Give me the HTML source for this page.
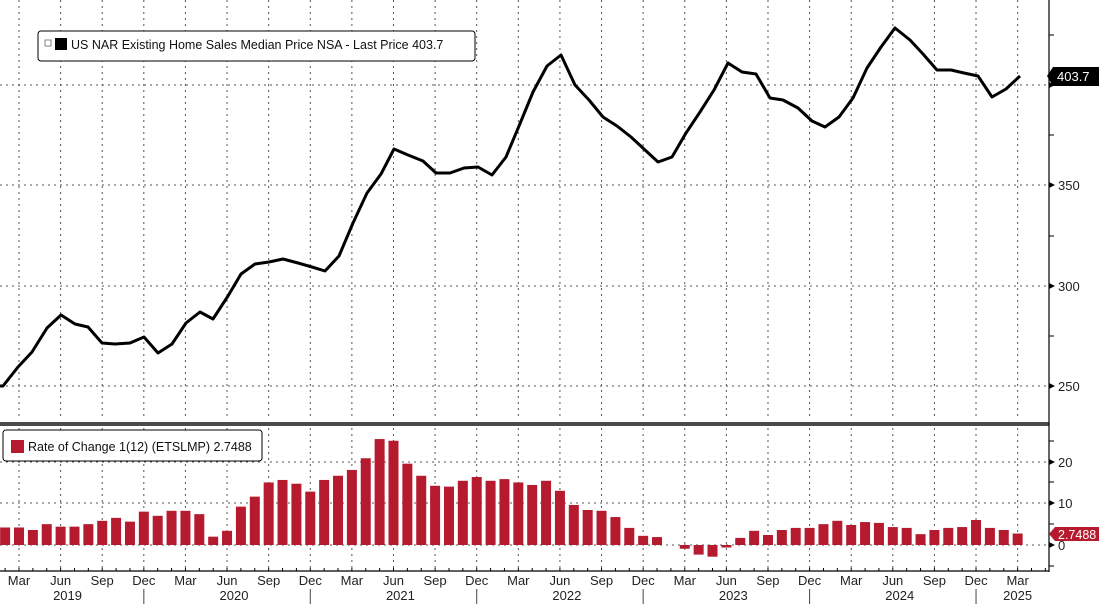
<!DOCTYPE html>
<html><head><meta charset="utf-8"><style>
html,body{margin:0;padding:0;background:#fff;}
svg{display:block;font-family:"Liberation Sans",sans-serif;}
</style></head><body>
<svg id="c" width="1099" height="604" viewBox="0 0 1099 604" xmlns="http://www.w3.org/2000/svg">
<rect width="1099" height="604" fill="#fff"/>
<g id="grid"></g>
<g id="bars"></g>
<polyline id="line" fill="none" stroke="#000" stroke-width="3" stroke-linejoin="round" points="0,386 3,386 18,367 32,352 47,328 61,315 75,324 88,327 102,343 115,344 130,343 144,337 158,353 172,344 186,323 200,312 213,319 228,296 241,274 255,264 269,262 283,259 298,263 312,267 325,271 339,256 353,223 367,193 381,174 394,149 408,155 423,161 436,173 450,173 464,168 478,167 492,175 506,157 519,126 533,92 547,66 561,55 575,85 589,100 603,117 617,126 631,137 644,149 658,162 672,157 686,133 700,112 714,90 728,63 742,72 756,74 770,98 783,100 798,108 812,121 825,127 839,117 853,98 867,68 881,47 895,28 910,40 923,54 937,70 951,70 964,73 978,76 992,97 1006,89 1020,76"/>
<rect x="0" y="422" width="1049" height="4" fill="#4a4a4a"/>
<line x1="1049" y1="0" x2="1049" y2="572" stroke="#000" stroke-width="1.2"/>
<line x1="0" y1="571" x2="1049" y2="571" stroke="#000" stroke-width="1.2"/>
<g id="axis" font-size="13" fill="#222"></g>
<rect x="38" y="31" width="437" height="30" rx="3" fill="#fff" stroke="#000" stroke-width="1"/>
<rect x="45" y="40" width="6" height="6" fill="#fff" stroke="#666" stroke-width="0.8"/>
<rect x="55" y="38" width="12" height="12" fill="#000"/>
<text x="71" y="49" font-size="12.5" fill="#111">US NAR Existing Home Sales Median Price NSA - Last Price 403.7</text>
<rect x="3" y="430" width="259" height="31" rx="3" fill="#fff" stroke="#000" stroke-width="1"/>
<rect x="11" y="440" width="13" height="13" fill="#b51a2e"/>
<text x="28" y="451" font-size="12.5" fill="#111">Rate of Change 1(12) (ETSLMP) 2.7488</text>
<polygon points="1047,76 1053,67 1099,67 1099,86 1053,86" fill="#000"/>
<text x="1057" y="81" font-size="13" fill="#fff">403.7</text>
<polygon points="1049,534 1055,527 1099,527 1099,541 1055,541" fill="#b51a2e"/>
<text x="1058" y="539" font-size="12.5" fill="#fff">2.7488</text>
</svg>
<script>
const NS="http://www.w3.org/2000/svg";
function el(p,t,a,txt){const e=document.createElementNS(NS,t);for(const k in a)e.setAttribute(k,a[k]);if(txt!=null)e.textContent=txt;document.getElementById(p).appendChild(e);return e;}
const X=i=>19+(i-2)*13.87;
for(let i=2;i<=74;i+=3){const x=X(i);
 el("grid","line",{x1:x,y1:0,x2:x,y2:420,stroke:"#555","stroke-width":1,"stroke-dasharray":"2,4"});
 el("grid","line",{x1:x,y1:428,x2:x,y2:571,stroke:"#555","stroke-width":1,"stroke-dasharray":"2,4"});}
[[386,"250"],[286,"300"],[185,"350"],[85,"400"]].forEach(([y,l])=>{
 el("grid","line",{x1:0,y1:y,x2:1049,y2:y,stroke:"#555","stroke-width":1,"stroke-dasharray":"2,4"});
 el("axis","polygon",{points:`1049,${y-3} 1055,${y} 1049,${y+3}`,fill:"#000"});
 if(l!=="400")el("axis","text",{x:1058,y:y+5},l);});
[336,236,135,35].forEach(y=>el("axis","line",{x1:1049,y1:y,x2:1054,y2:y,stroke:"#000"}));
[[545,"0"],[503,"10"],[462,"20"]].forEach(([y,l])=>{
 el("grid","line",{x1:0,y1:y,x2:1049,y2:y,stroke:"#555","stroke-width":1,"stroke-dasharray":"2,4"});
 el("axis","polygon",{points:`1049,${y-3} 1055,${y} 1049,${y+3}`,fill:"#000"});
 el("axis","text",{x:1058,y:y+5},l);});
[566,524,482,441].forEach(y=>el("axis","line",{x1:1049,y1:y,x2:1054,y2:y,stroke:"#000"}));
const v=[4.2,4.2,3.6,5.0,4.4,4.4,5.0,5.8,6.5,5.6,8.0,7.0,8.2,8.2,7.4,2.0,3.4,9.2,11.6,15.0,15.6,14.7,12.8,15.6,16.6,18.0,20.8,25.4,25.0,19.5,16.6,14.2,14.0,15.4,16.3,15.4,15.8,15.0,14.4,15.4,13.0,9.6,8.4,8.2,6.7,4.1,2.2,1.9,0,-0.9,-2.3,-2.8,-0.6,1.7,3.4,2.4,3.6,4.1,4.1,5.0,5.8,4.8,5.5,5.3,4.3,4.1,2.6,3.6,4.1,4.3,6.0,4.1,3.6,2.75];
v.forEach((d,k)=>{const x=X(k+1);const h=d*4.17;if(d===0)return;
 el("bars","rect",{x:x-5,y:d>0?545-h:545,width:10,height:Math.abs(h),fill:"#b51a2e"});});
const m=["Jan","Feb","Mar","Apr","May","Jun","Jul","Aug","Sep","Oct","Nov","Dec"];
for(let i=1;i<=76;i++){const x=X(i);el("axis","line",{x1:x,y1:568,x2:x,y2:571,stroke:"#000"});
 if(i%3===2&&i<=74)el("axis","text",{x:x,y:585,"text-anchor":"middle"},m[i%12]);}
[2019,2020,2021,2022,2023,2024].forEach((y,k)=>{const a=k*12;el("axis","text",{x:X(a+5.5),y:600,"text-anchor":"middle"},y);
 el("axis","line",{x1:X(a+11),y1:589,x2:X(a+11),y2:604,stroke:"#444"});});
el("axis","text",{x:X(74),y:600,"text-anchor":"middle"},"2025");
</script>
</body></html>
